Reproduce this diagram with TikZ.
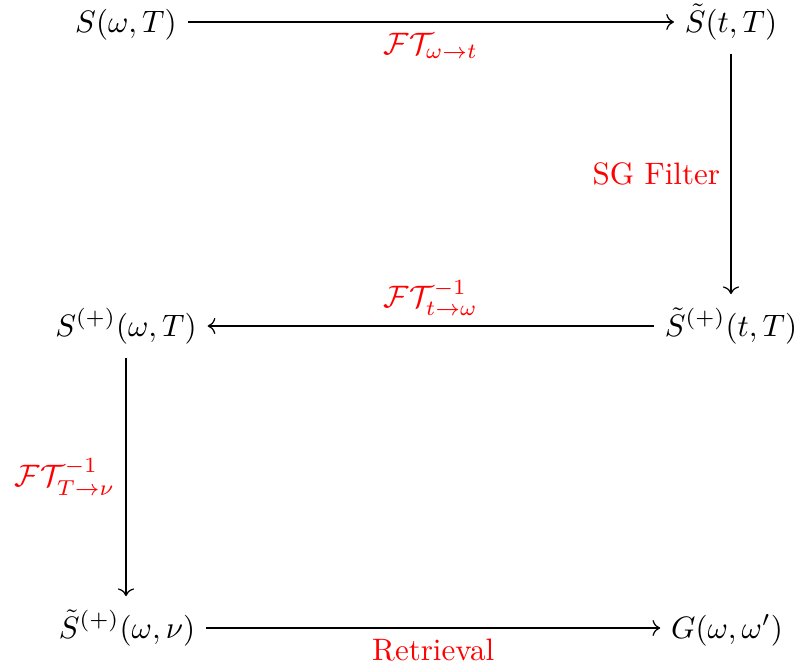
\documentclass[tikz,border=0pt]{standalone}
\usepackage{tikz}
\usetikzlibrary{arrows.meta, positioning, calc}
\usepackage{amsmath, amssymb}
\newcommand{\FT}{\mathcal{F}\mathcal{T}}

\begin{document}
\begin{tikzpicture}[x=0.3226pt, y=-0.3226pt,
    state/.style={text height=10pt, text depth=3.5pt},
    lbl/.style={text=red},
    flow/.style={->}]
  \useasboundingbox (0,0) rectangle (796,669);
  % corners of the loop
  \node[state] (swT)  at (126,22)  {$S(\omega,T)$};
  \node[state] (stT)  at (731,22)  {$\tilde{S}(t,T)$};
  \node[state] (spwT) at (126,326) {$S^{(+)}(\omega,T)$};
  \node[state] (sptT) at (731,326) {$\tilde{S}^{(+)}(t,T)$};
  \node[state] (spwn) at (127,628) {$\tilde{S}^{(+)}(\omega,\nu)$};
  \node[state] (gww)  at (727,628) {$G(\omega,\omega')$};
  % transforms
  \draw[flow] (swT.east) -- node[lbl, below] (l1) {$\FT_{\omega\to t}$} (swT.east -| stT.west);
  \draw[flow] (stT.south) -- node[lbl, left] (l2) {SG Filter} (stT.south |- sptT.north);
  \draw[flow] (sptT.west) -- node[lbl, above] (l3) {$\FT^{-1}_{t\to\omega}$} (sptT.west -| spwT.east);
  \draw[flow] (spwT.south) -- node[lbl, left] (l4) {$\FT^{-1}_{T\to\nu}$} (spwT.south |- spwn.north);
  \draw[flow] (spwn.east) -- node[lbl, below] (l5) {Retrieval} (spwn.east -| gww.west);
\end{tikzpicture}
\end{document}
